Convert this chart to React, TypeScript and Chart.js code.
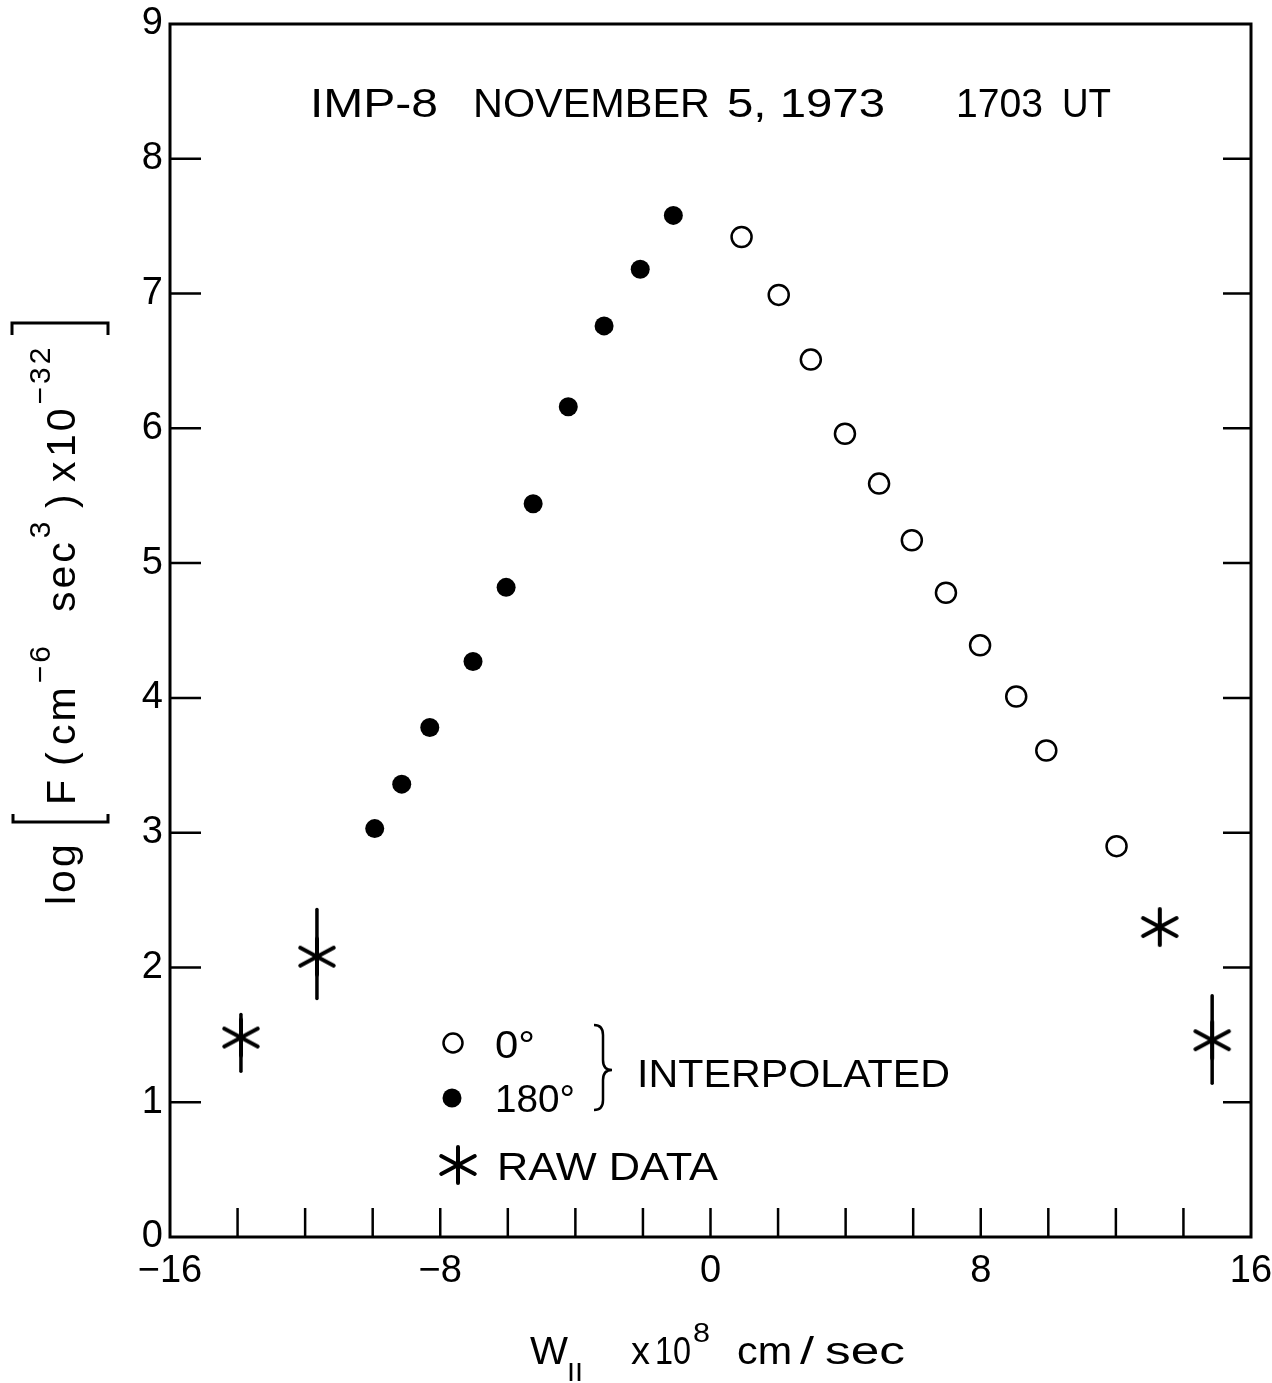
import React, { useEffect, useRef } from 'react';
import { Chart, registerables } from 'chart.js';

Chart.register(...registerables);

const FONT = '"Liberation Sans", Arial, sans-serif';

// ---- data ----
const interp0X = [0.92, 2.02, 2.97, 3.98, 4.99, 5.96, 6.97, 7.98, 9.05, 9.94, 12.02];
const interp0Y = [7.42, 6.99, 6.51, 5.96, 5.59, 5.17, 4.78, 4.39, 4.01, 3.61, 2.9];
const interp180X = [-9.94, -9.14, -8.31, -7.03, -6.05, -5.25, -4.21, -3.15, -2.08, -1.1];
const interp180Y = [3.03, 3.36, 3.78, 4.27, 4.82, 5.44, 6.16, 6.76, 7.18, 7.58];
const rawX = [-13.9, -11.65, 13.3, 14.85];
const rawY = [1.48, 2.08, 2.3, 1.46];
const rawLow: (number | null)[] = [1.23, 1.77, null, 1.14];
const rawHigh: (number | null)[] = [1.65, 2.43, null, 1.79];

const xMin = -16;
const xMax = 16;
const xStep = 2;
const xLabelValues = [-16, -8, 0, 8, 16];
const yMin = 0;
const yMax = 9;
const yStep = 1;

function fmt(v: number): string {
  return v < 0 ? '\u2212' + Math.abs(v) : String(v);
}

function makeAsterisk(): HTMLCanvasElement {
  const size = 44;
  const c = document.createElement('canvas');
  c.width = size;
  c.height = size;
  const g = c.getContext('2d')!;
  g.strokeStyle = '#000';
  g.lineWidth = 4;
  g.lineCap = 'round';
  const cx = size / 2;
  const cy = size / 2;
  const arms: [number, number][] = [
    [90, 18],
    [28, 19],
    [-28, 19],
  ];
  for (const [a, len] of arms) {
    const r = (a * Math.PI) / 180;
    const dx = Math.cos(r) * len;
    const dy = Math.sin(r) * len;
    g.beginPath();
    g.moveTo(cx - dx, cy - dy);
    g.lineTo(cx + dx, cy + dy);
    g.stroke();
  }
  return c;
}

function fitText(ctx: CanvasRenderingContext2D, text: string, x: number, y: number, width?: number) {
  if (!width) {
    ctx.fillText(text, x, y);
    return;
  }
  const w = ctx.measureText(text).width;
  ctx.save();
  ctx.translate(x, y);
  ctx.scale(width / w, 1);
  ctx.fillText(text, 0, 0);
  ctx.restore();
}

export default function App() {
  const ref = useRef<HTMLCanvasElement>(null);

  useEffect(() => {
    document.body.style.margin = '0';
    document.body.style.background = '#fff';
    const canvas = ref.current!;
    const star = makeAsterisk();

    const decor = {
      id: 'decor',
      beforeDatasetsDraw(chart: any) {
        const ctx: CanvasRenderingContext2D = chart.ctx;
        const xs = chart.scales.x;
        const ys = chart.scales.y;
        ctx.save();
        ctx.strokeStyle = '#000';
        ctx.lineWidth = 3.5;
        ctx.lineCap = 'round';
        rawX.forEach((xv, i) => {
          const lo = rawLow[i];
          const hi = rawHigh[i];
          if (lo == null || hi == null) return;
          const px = xs.getPixelForValue(xv);
          ctx.beginPath();
          ctx.moveTo(px, ys.getPixelForValue(lo));
          ctx.lineTo(px, ys.getPixelForValue(hi));
          ctx.stroke();
        });
        ctx.restore();
      },
      afterDraw(chart: any) {
        const ctx: CanvasRenderingContext2D = chart.ctx;
        const { left, right, top, bottom } = chart.chartArea;
        const xs = chart.scales.x;
        const ys = chart.scales.y;
        ctx.save();
        ctx.strokeStyle = '#000';
        ctx.fillStyle = '#000';
        // frame
        ctx.lineWidth = 3;
        ctx.strokeRect(left, top, right - left, bottom - top);
        // inward ticks
        ctx.lineWidth = 2.5;
        xs.ticks.forEach((t: any) => {
          if (t.value <= xMin || t.value >= xMax) return;
          const px = xs.getPixelForValue(t.value);
          ctx.beginPath();
          ctx.moveTo(px, bottom);
          ctx.lineTo(px, bottom - 29);
          ctx.stroke();
        });
        ys.ticks.forEach((t: any) => {
          if (t.value <= yMin || t.value >= yMax) return;
          const py = ys.getPixelForValue(t.value);
          ctx.beginPath();
          ctx.moveTo(left, py);
          ctx.lineTo(left + 31, py);
          ctx.moveTo(right, py);
          ctx.lineTo(right - 28, py);
          ctx.stroke();
        });

        // title
        ctx.textBaseline = 'alphabetic';
        ctx.textAlign = 'left';
        ctx.font = `40px ${FONT}`;
        fitText(ctx, 'IMP-8', 310, 117, 128);
        fitText(ctx, 'NOVEMBER', 473, 117, 237);
        fitText(ctx, '5, 1973', 727, 117, 158);
        fitText(ctx, '1703', 956, 117, 87);
        fitText(ctx, 'UT', 1062, 117, 49);

        // y-axis title (rotated); superscripts follow their base text
        const ySeg: [string, number | null, number, number][] = [
          // text, yStart (null = right after previous piece), baseline x, font size
          ['log', 905, 75, 41],
          ['F', 805, 75, 41],
          ['(', 766, 75, 41],
          ['cm', 745, 75, 41],
          ['\u22126', null, 50, 30],
          ['sec', 612, 75, 41],
          ['3', null, 50, 30],
          [')', 508, 75, 41],
          ['x', 482, 75, 41],
          ['10', 457, 75, 41],
          ['\u221232', null, 50, 30],
        ];
        (ctx as any).letterSpacing = '3px';
        let cursor = 905;
        for (const [txt, ys0, bx, fs] of ySeg) {
          ctx.font = `${fs}px ${FONT}`;
          const y0 = ys0 == null ? cursor - 1 : ys0;
          ctx.save();
          ctx.translate(bx, y0);
          ctx.rotate(-Math.PI / 2);
          ctx.fillText(txt, 0, 0);
          ctx.restore();
          cursor = y0 - ctx.measureText(txt).width;
        }
        (ctx as any).letterSpacing = '0px';
        // brackets
        ctx.lineWidth = 3;
        ctx.beginPath();
        ctx.moveTo(13, 814);
        ctx.lineTo(13, 822);
        ctx.lineTo(108, 822);
        ctx.lineTo(108, 814);
        ctx.stroke();
        ctx.beginPath();
        ctx.moveTo(12, 335);
        ctx.lineTo(12, 323);
        ctx.lineTo(108, 323);
        ctx.lineTo(108, 335);
        ctx.stroke();

        // x-axis title
        ctx.font = `39px ${FONT}`;
        fitText(ctx, 'W', 530, 1364, 38);
        ctx.font = `26px ${FONT}`;
        fitText(ctx, 'II', 567, 1381, 16);
        ctx.font = `38px ${FONT}`;
        fitText(ctx, 'x', 631, 1364, 19);
        fitText(ctx, '10', 655, 1364, 36);
        ctx.font = `28px ${FONT}`;
        fitText(ctx, '8', 693, 1342, 17);
        ctx.font = `38px ${FONT}`;
        fitText(ctx, 'cm', 737, 1364, 55);
        fitText(ctx, '/', 800, 1364, 14);
        fitText(ctx, 'sec', 825, 1364, 80);

        // legend
        ctx.lineWidth = 2.5;
        ctx.beginPath();
        ctx.arc(453, 1043, 9.5, 0, Math.PI * 2);
        ctx.stroke();
        ctx.beginPath();
        ctx.arc(452, 1098, 9.5, 0, Math.PI * 2);
        ctx.fill();
        ctx.drawImage(star, 458 - star.width / 2, 1165 - star.height / 2);
        ctx.font = `38px ${FONT}`;
        fitText(ctx, '0°', 495, 1058, 40);
        fitText(ctx, '180°', 495, 1112, 80);
        fitText(ctx, 'INTERPOLATED', 637, 1087, 313);
        fitText(ctx, 'RAW DATA', 497, 1180, 221);
        // brace
        ctx.lineWidth = 2.5;
        ctx.beginPath();
        ctx.moveTo(594, 1025);
        ctx.quadraticCurveTo(603, 1025, 603, 1035);
        ctx.lineTo(603, 1060);
        ctx.quadraticCurveTo(603, 1070, 612, 1070);
        ctx.quadraticCurveTo(603, 1070, 603, 1080);
        ctx.lineTo(603, 1100);
        ctx.quadraticCurveTo(603, 1110, 594, 1110);
        ctx.stroke();

        ctx.restore();
      },
    };

    const chart = new Chart(canvas, {
      type: 'scatter',
      data: {
        datasets: [
          {
            label: '0°',
            data: interp0X.map((x, i) => ({ x, y: interp0Y[i] })),
            pointStyle: 'circle',
            pointRadius: 10,
            pointBorderWidth: 2.5,
            pointBackgroundColor: '#fff',
            pointBorderColor: '#000',
          },
          {
            label: '180°',
            data: interp180X.map((x, i) => ({ x, y: interp180Y[i] })),
            pointStyle: 'circle',
            pointRadius: 9.5,
            pointBorderWidth: 0,
            pointBackgroundColor: '#000',
            pointBorderColor: '#000',
          },
          {
            label: 'RAW DATA',
            data: rawX.map((x, i) => ({ x, y: rawY[i] })),
            pointStyle: star as any,
            pointRadius: 18,
          },
        ],
      },
      options: {
        responsive: false,
        animation: false,
        devicePixelRatio: 1,
        layout: { padding: { left: 0, right: 21, top: 24, bottom: 0 } },
        plugins: {
          legend: { display: false },
          tooltip: { enabled: false },
        },
        scales: {
          x: {
            type: 'linear',
            min: xMin,
            max: xMax,
            ticks: {
              stepSize: xStep,
              autoSkip: false,
              maxRotation: 0,
              padding: 12,
              color: '#000',
              font: { family: FONT, size: 38 },
              callback: (v: any) => (xLabelValues.includes(Number(v)) ? fmt(Number(v)) : ''),
            },
            grid: { display: false, drawTicks: false },
            border: { display: false },
            afterFit: (s: any) => {
              s.height = 146;
              s.paddingLeft = 0;
              s.paddingRight = 0;
            },
          },
          y: {
            type: 'linear',
            min: yMin,
            max: yMax,
            ticks: {
              stepSize: yStep,
              padding: 7,
              color: '#000',
              font: { family: FONT, size: 38 },
              callback: (v: any) => String(v),
            },
            grid: { display: false, drawTicks: false },
            border: { display: false },
            afterFit: (s: any) => {
              s.width = 170;
              s.paddingTop = 0;
              s.paddingBottom = 0;
            },
          },
        },
      },
      plugins: [decor],
    });

    return () => chart.destroy();
  }, []);

  return <canvas ref={ref} width={1272} height={1383} style={{ display: 'block' }} />;
}
